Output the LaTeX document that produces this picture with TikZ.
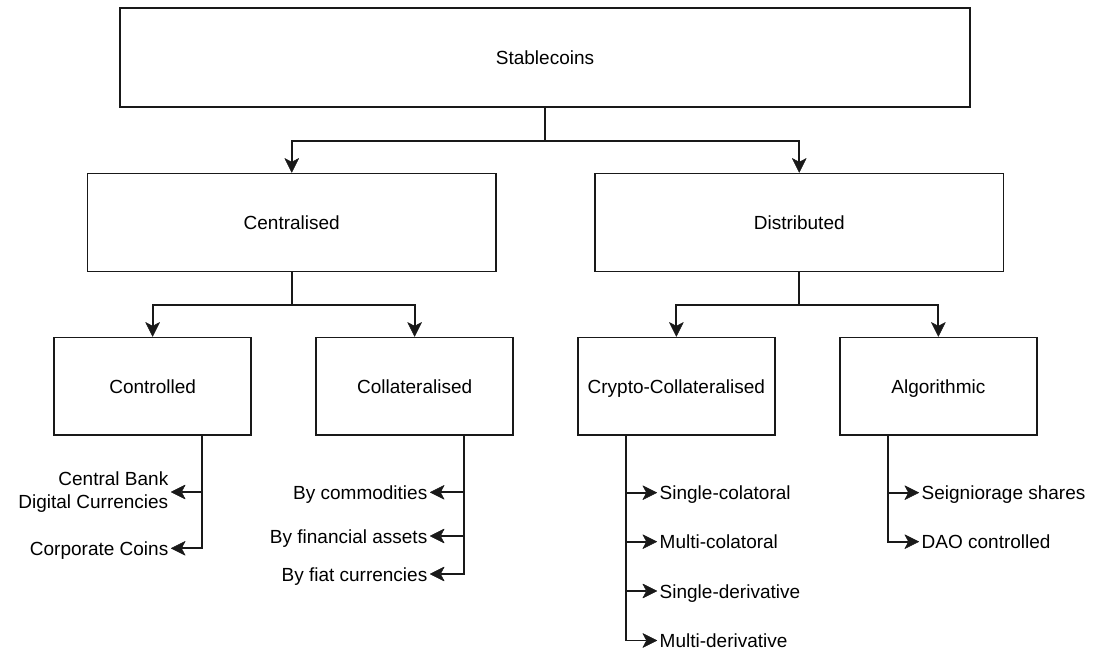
\documentclass[tikz,border=0pt]{standalone}
\usepackage{fontspec}
\setmainfont{Liberation Sans}
\usetikzlibrary{arrows.meta,calc}
\begin{document}
\begin{tikzpicture}[x=1pt,y=-1pt,
  every node/.style={font=\fontsize{19}{23}\selectfont},
  box/.style={draw=black!90,line width=1.8pt,fill=white,inner sep=0pt,align=center,text height=14pt,text depth=0pt},
  bigbox/.style={box,minimum width=408.5pt,minimum height=98pt},
  smallbox/.style={box,minimum width=196.7pt,minimum height=97.5pt},
  leaf/.style={inner sep=2.5pt,text height=14pt,text depth=0pt},
  arr/.style={draw=black!90,line width=1.8pt,-{Stealth[length=15pt,width=15pt,inset=4pt,round=false,fill=black!90,line width=0.5pt]}}]
\useasboundingbox (0,0) rectangle (1096,652);
% boxes
\node[box,minimum width=850pt,minimum height=99pt] (stab) at (545,57.5) {Stablecoins};
\node[bigbox] (cent) at (291.75,222.5) {Centralised};
\node[bigbox] (dist) at (799.25,222.5) {Distributed};
\node[smallbox] (ctrl) at (152.65,386.25) {Controlled};
\node[smallbox] (coll) at (414.6,386.25) {Collateralised};
\node[smallbox] (cryp) at (676.35,386.25) {Crypto-Collateralised};
\node[smallbox] (algo) at (938.35,386.25) {Algorithmic};
% top connectors
\draw[arr] (stab.south) -- ++(0,33.5) -| (cent.north);
\draw[arr] (stab.south) -- ++(0,33.5) -| (dist.north);
\draw[arr] (cent.south) -- ++(0,32.5) -| (ctrl.north);
\draw[arr] (cent.south) -- ++(0,32.5) -| (coll.north);
\draw[arr] (dist.south) -- ++(0,32.5) -| (cryp.north);
\draw[arr] (dist.south) -- ++(0,32.5) -| (algo.north);
% branch points
\coordinate (c1) at ($(ctrl.south)+(49.7,0)$);
\coordinate (c2) at ($(coll.south)+(49.4,0)$);
\coordinate (c3) at ($(cryp.south)+(-50.4,0)$);
\coordinate (c4) at ($(algo.south)+(-50.4,0)$);
% leaves: Controlled
\node[inner sep=2.5pt,anchor=east,align=right] (cbdc) at (171,492) {Central Bank\\Digital Currencies};
\node[leaf,anchor=east] (corp) at (171,548.3) {Corporate Coins};
% leaves: Collateralised
\node[leaf,anchor=east] (comm) at (430,492.3) {By commodities};
\node[leaf,anchor=east] (fina) at (430,536) {By financial assets};
\node[leaf,anchor=east] (fiat) at (430,574) {By fiat currencies};
% leaves: Crypto-Collateralised
\node[leaf,anchor=west] (sc) at (657,492.7) {Single-colatoral};
\node[leaf,anchor=west] (mc) at (657,541.7) {Multi-colatoral};
\node[leaf,anchor=west] (sd) at (657,591) {Single-derivative};
\node[leaf,anchor=west] (md) at (657,640.5) {Multi-derivative};
% leaves: Algorithmic
\node[leaf,anchor=west] (ss) at (919,492.7) {Seigniorage shares};
\node[leaf,anchor=west] (dao) at (919,541.7) {DAO controlled};
% leaf connectors
\draw[arr] (c1) |- (cbdc.east);
\draw[arr] (c1) |- (corp.east);
\draw[arr] (c2) |- (comm.east);
\draw[arr] (c2) |- (fina.east);
\draw[arr] (c2) |- (fiat.east);
\draw[arr] (c3) |- (sc.west);
\draw[arr] (c3) |- (mc.west);
\draw[arr] (c3) |- (sd.west);
\draw[arr] (c3) |- (md.west);
\draw[arr] (c4) |- (ss.west);
\draw[arr] (c4) |- (dao.west);
\end{tikzpicture}
\end{document}
